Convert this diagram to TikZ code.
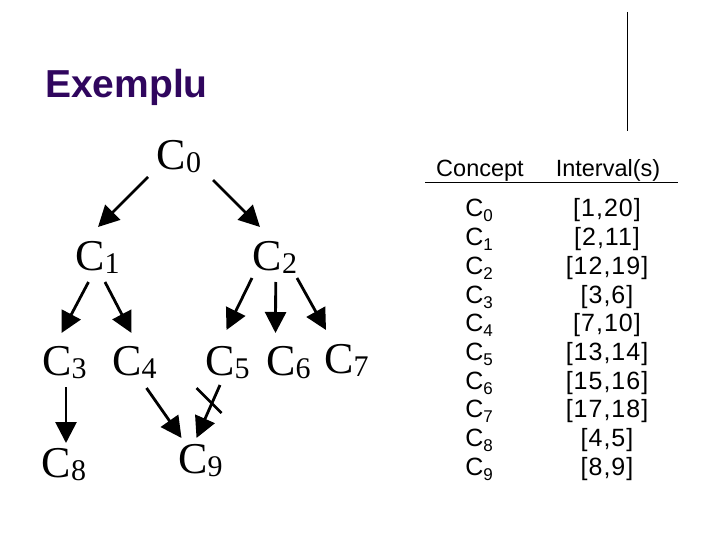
\documentclass[tikz,border=0pt]{standalone}
\usepackage{fontspec}
\setmainfont{Liberation Serif}
\setsansfont{Liberation Sans}
\usetikzlibrary{arrows.meta}
\definecolor{titlecol}{RGB}{48,6,94}
\newcommand\treeC[1]{{\fontsize{44}{44}\selectfont C\raisebox{-3pt}{\fontsize{30}{30}\selectfont #1}}}
\newcommand\tabC[1]{C\raisebox{-5pt}{\fontsize{17}{17}\selectfont #1}}
\begin{document}
\begin{tikzpicture}[x=1pt,y=-1pt,
  tn/.style={inner sep=0pt, anchor=base, font=\rmfamily},
  tt/.style={inner sep=0pt, anchor=base, font=\sffamily\fontsize{23.5}{23.5}\selectfont},
  tr/.style={inner sep=0pt, anchor=base, font=\sffamily\fontsize{25}{25}\selectfont\addfontfeature{LetterSpace=4}},
  arr/.style={line width=2.8pt, -{Triangle[length=21pt,width=21pt]}},
  thinline/.style={line width=1.2pt}]
\useasboundingbox (0,0) rectangle (720,540);
% title
\node[anchor=base west, inner sep=0pt, text=titlecol, font=\sffamily\bfseries\fontsize{39}{39}\selectfont] (title) at (45,98) {Exemplu};
\draw[line width=1pt] (627,12) -- (627,131);
% tree nodes
\node[tn] (c0) at (179,170) {\treeC{0}};
\node[tn] (c1) at (97.5,270) {\treeC{1}};
\node[tn] (c2) at (275,270) {\treeC{2}};
\node[tn] (c3) at (64.5,375) {\treeC{3}};
\node[tn] (c4) at (134.5,375) {\treeC{4}};
\node[tn] (c5) at (227.5,375) {\treeC{5}};
\node[tn] (c6) at (288.5,375) {\treeC{6}};
\node[tn] (c7) at (346.5,373) {\treeC{7}};
\node[tn] (c8) at (64,477) {\treeC{8}};
\node[tn] (c9) at (200.5,473) {\treeC{9}};
% arrows
\draw[arr] ([shift={(-31,7)}]c0.base) -- ([shift={(0.5,-43)}]c1.base);
\draw[arr] ([shift={(34,10)}]c0.base) -- ([shift={(-15,-43)}]c2.base);
\draw[arr] ([shift={(-9,12)}]c1.base) -- ([shift={(-3,-42)}]c3.base);
\draw[arr] ([shift={(7.5,12)}]c1.base) -- ([shift={(-3,-42)}]c4.base);
\draw[arr] ([shift={(-23,8)}]c2.base) -- ([shift={(-1,-45)}]c5.base);
\draw[arr] ([shift={(0.7,12)}]c2.base) -- ([shift={(-13,-42)}]c6.base);
\draw[arr] ([shift={(22,8)}]c2.base) -- ([shift={(-20.5,-43)}]c7.base);
\draw[arr] ([shift={(1.5,12)}]c3.base) -- ([shift={(2,-34)}]c8.base);
\draw[arr] ([shift={(12,13)}]c4.base) -- ([shift={(-19,-35)}]c9.base);
\draw[arr] ([shift={(-7.5,10)}]c5.base) -- ([shift={(-4,-35)}]c9.base);
% cross mark
\draw[line width=2.8pt] ([shift={(-31,13)}]c5.base) -- ([shift={(-6,38)}]c5.base);
% table
\node[tt] (hc) at (480,177) {Concept};
\node[tt] (hi) at (608,177) {Interval(s)};
\draw[thinline] (425,182.5) -- (678,182.5);
\foreach \v [count=\i from 0] in {{[1,20]},{[2,11]},{[12,19]},{[3,6]},{[7,10]},{[13,14]},{[15,16]},{[17,18]},{[4,5]},{[8,9]}}{
  \node[tr] (r\i) at (479,217+28.7*\i) {\tabC{\i}};
  \node[tr] (v\i) at (607,217+28.7*\i) {\v};
}
\end{tikzpicture}
\end{document}
